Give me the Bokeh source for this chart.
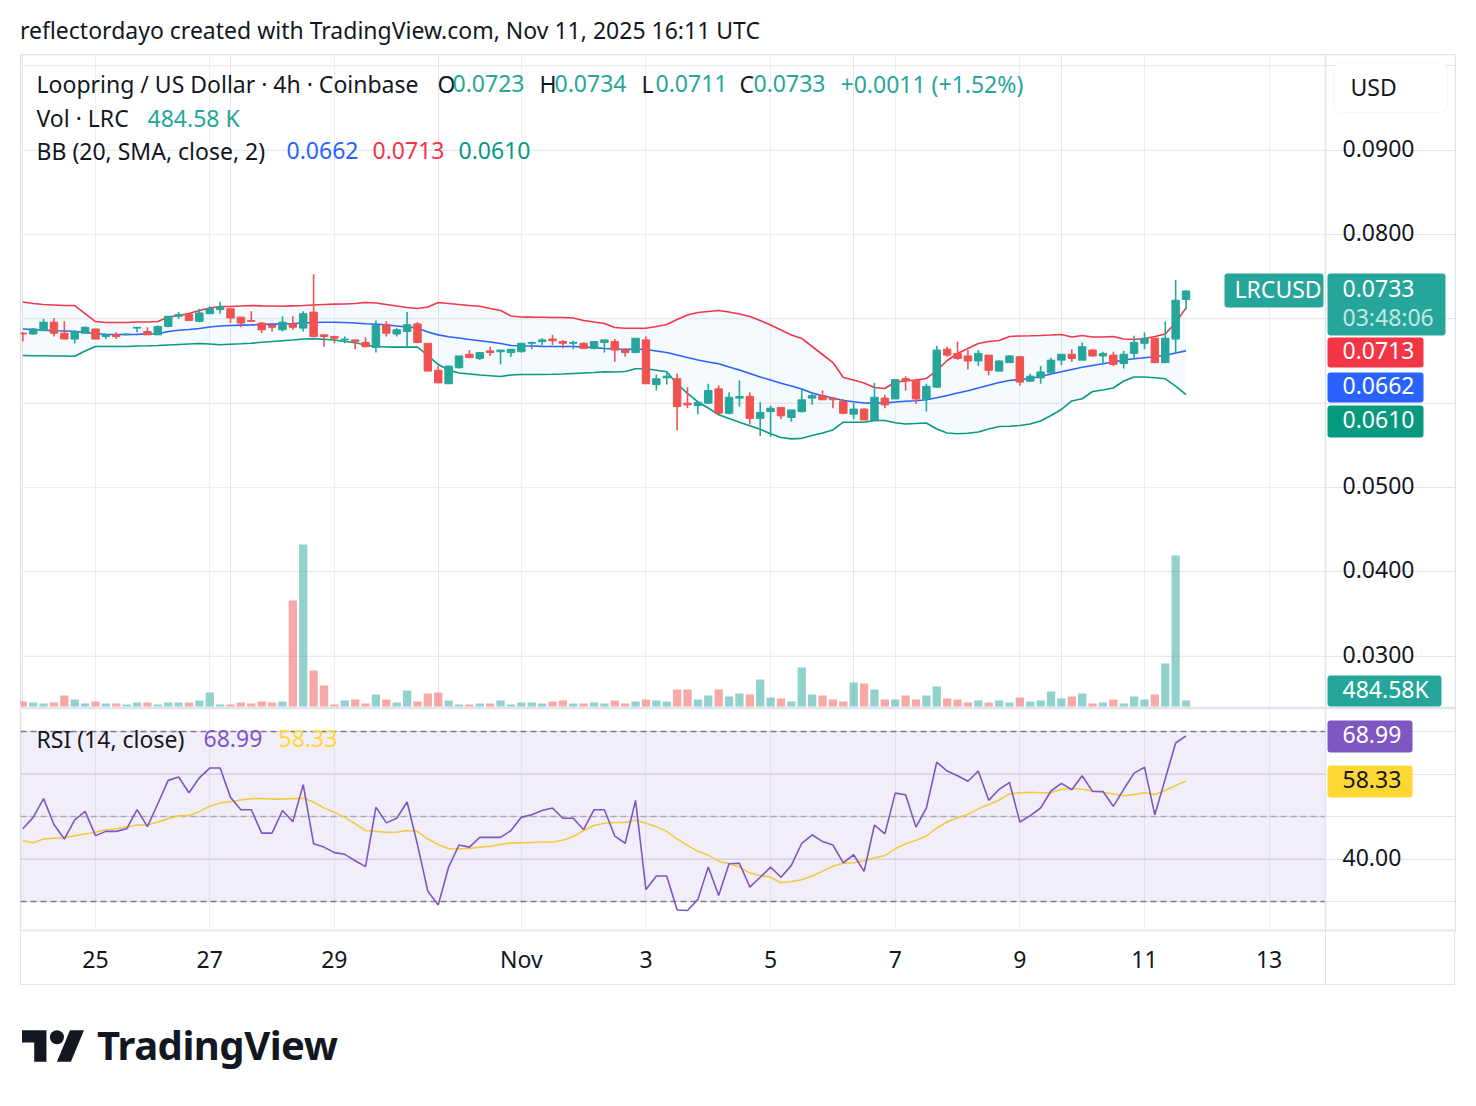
from bokeh.plotting import figure
from bokeh.models import (Range1d, FixedTicker, Label, BoxAnnotation,
                          Span, ColumnDataSource, Div, Grid)
from bokeh.layouts import column
from bokeh.embed import file_html
from bokeh.resources import INLINE

# ---------------- data (4h candles, LRC/USD, Coinbase) ----------------
opens = [0.0683, 0.0682, 0.0686, 0.0696, 0.0683, 0.0676, 0.0683, 0.0688, 0.0679, 0.0681,
         0.0681, 0.0689, 0.0685, 0.0681, 0.0691, 0.0703, 0.0705, 0.0697, 0.0706, 0.0711,
         0.0712, 0.0702, 0.0698, 0.0695, 0.0692, 0.0687, 0.0694, 0.0689, 0.0708, 0.0681,
         0.0679, 0.0675, 0.0675, 0.0672, 0.0666, 0.0693, 0.0682, 0.0685, 0.0694, 0.0671,
         0.0639, 0.0623, 0.0642, 0.0658, 0.0653, 0.0662, 0.0661, 0.0660, 0.0661, 0.0671,
         0.0673, 0.0676, 0.0673, 0.0671, 0.0671, 0.0665, 0.0672, 0.0673, 0.0663, 0.0660,
         0.0675, 0.0622, 0.0630, 0.0629, 0.0600, 0.0597, 0.0600, 0.0617, 0.0588, 0.0606,
         0.0608, 0.0582, 0.0590, 0.0595, 0.0583, 0.0590, 0.0606, 0.0609, 0.0606, 0.0602,
         0.0587, 0.0593, 0.0579, 0.0606, 0.0605, 0.0629, 0.0627, 0.0605, 0.0619, 0.0664,
         0.0659, 0.0656, 0.0650, 0.0657, 0.0638, 0.0648, 0.0655, 0.0626, 0.0630, 0.0636,
         0.0651, 0.0658, 0.0651, 0.0663, 0.0656, 0.0657, 0.0647, 0.0659, 0.0671, 0.0677,
         0.0648, 0.0676, 0.0723]
highs = [0.0684, 0.0689, 0.0700, 0.0701, 0.0697, 0.0686, 0.0691, 0.0688, 0.0682, 0.0684,
         0.0683, 0.0690, 0.0690, 0.0692, 0.0703, 0.0708, 0.0705, 0.0712, 0.0715, 0.0720,
         0.0712, 0.0702, 0.0709, 0.0696, 0.0695, 0.0703, 0.0703, 0.0709, 0.0753, 0.0681,
         0.0680, 0.0679, 0.0675, 0.0678, 0.0698, 0.0697, 0.0689, 0.0708, 0.0696, 0.0671,
         0.0644, 0.0644, 0.0656, 0.0663, 0.0660, 0.0667, 0.0663, 0.0664, 0.0671, 0.0673,
         0.0677, 0.0681, 0.0675, 0.0674, 0.0672, 0.0673, 0.0675, 0.0676, 0.0665, 0.0677,
         0.0679, 0.0634, 0.0637, 0.0635, 0.0619, 0.0601, 0.0623, 0.0621, 0.0613, 0.0627,
         0.0613, 0.0601, 0.0597, 0.0595, 0.0592, 0.0618, 0.0612, 0.0615, 0.0606, 0.0605,
         0.0600, 0.0594, 0.0624, 0.0610, 0.0628, 0.0632, 0.0629, 0.0623, 0.0668, 0.0667,
         0.0673, 0.0663, 0.0663, 0.0657, 0.0651, 0.0657, 0.0656, 0.0635, 0.0644, 0.0654,
         0.0658, 0.0664, 0.0672, 0.0664, 0.0661, 0.0661, 0.0662, 0.0680, 0.0684, 0.0677,
         0.0697, 0.0746, 0.0734]
lows = [0.0673, 0.0681, 0.0686, 0.0679, 0.0676, 0.0671, 0.0683, 0.0676, 0.0676, 0.0676,
        0.0681, 0.0684, 0.0681, 0.0681, 0.0690, 0.0700, 0.0698, 0.0696, 0.0706, 0.0706,
        0.0695, 0.0690, 0.0697, 0.0683, 0.0685, 0.0685, 0.0687, 0.0685, 0.0678, 0.0667,
        0.0671, 0.0671, 0.0664, 0.0666, 0.0660, 0.0679, 0.0679, 0.0665, 0.0671, 0.0638,
        0.0624, 0.0623, 0.0641, 0.0654, 0.0651, 0.0656, 0.0646, 0.0655, 0.0660, 0.0664,
        0.0669, 0.0669, 0.0665, 0.0664, 0.0665, 0.0664, 0.0660, 0.0649, 0.0655, 0.0660,
        0.0623, 0.0615, 0.0622, 0.0568, 0.0594, 0.0587, 0.0599, 0.0587, 0.0587, 0.0596,
        0.0575, 0.0561, 0.0560, 0.0581, 0.0578, 0.0589, 0.0598, 0.0604, 0.0594, 0.0588,
        0.0581, 0.0580, 0.0579, 0.0594, 0.0605, 0.0615, 0.0599, 0.0590, 0.0618, 0.0655,
        0.0651, 0.0640, 0.0644, 0.0633, 0.0638, 0.0648, 0.0621, 0.0626, 0.0623, 0.0636,
        0.0645, 0.0649, 0.0651, 0.0655, 0.0646, 0.0644, 0.0641, 0.0653, 0.0664, 0.0648,
        0.0648, 0.0660, 0.0711]
closes = [0.0682, 0.0688, 0.0696, 0.0683, 0.0676, 0.0685, 0.0690, 0.0676, 0.0681, 0.0679,
          0.0682, 0.0690, 0.0681, 0.0691, 0.0703, 0.0705, 0.0698, 0.0707, 0.0712, 0.0714,
          0.0701, 0.0695, 0.0697, 0.0687, 0.0690, 0.0696, 0.0690, 0.0706, 0.0679, 0.0679,
          0.0677, 0.0676, 0.0673, 0.0667, 0.0692, 0.0683, 0.0687, 0.0693, 0.0672, 0.0638,
          0.0624, 0.0644, 0.0656, 0.0654, 0.0660, 0.0660, 0.0663, 0.0664, 0.0671, 0.0672,
          0.0675, 0.0674, 0.0671, 0.0672, 0.0665, 0.0673, 0.0675, 0.0663, 0.0660, 0.0677,
          0.0623, 0.0629, 0.0632, 0.0596, 0.0598, 0.0601, 0.0615, 0.0588, 0.0607, 0.0608,
          0.0582, 0.0589, 0.0594, 0.0585, 0.0592, 0.0604, 0.0609, 0.0604, 0.0604, 0.0588,
          0.0593, 0.0580, 0.0607, 0.0598, 0.0628, 0.0627, 0.0605, 0.0620, 0.0663, 0.0657,
          0.0653, 0.0650, 0.0659, 0.0639, 0.0650, 0.0656, 0.0625, 0.0632, 0.0637, 0.0651,
          0.0658, 0.0653, 0.0667, 0.0656, 0.0659, 0.0646, 0.0658, 0.0672, 0.0677, 0.0648,
          0.0677, 0.0722, 0.0733]
# volume in thousands of LRC
volumes_k = [404, 323, 242, 323, 889, 566, 242, 404, 242, 242,
             162, 323, 323, 162, 323, 323, 323, 485, 1131, 162,
             162, 323, 242, 404, 323, 404, 8565, 13090, 2909, 1697,
             162, 485, 566, 242, 970, 566, 323, 1293, 404, 1050,
             1131, 485, 162, 162, 242, 242, 485, 162, 323, 323,
             242, 404, 485, 242, 242, 323, 242, 485, 242, 404,
             566, 485, 404, 1374, 1374, 566, 889, 1374, 808, 1050,
             970, 2182, 727, 646, 404, 3151, 970, 889, 566, 404,
             1939, 1858, 1374, 566, 566, 889, 566, 889, 1616, 646,
             566, 323, 485, 323, 485, 323, 727, 404, 485, 1212,
             646, 808, 1050, 242, 323, 566, 242, 808, 566, 970,
             3474, 12201, 484.58]
bb_upper = [0.07200, 0.07182, 0.07170, 0.07164, 0.07158, 0.07158, 0.07063, 0.06968, 0.06956, 0.06956,
            0.06956, 0.06962, 0.06962, 0.06968, 0.07022, 0.07040, 0.07063, 0.07099, 0.07129, 0.07146,
            0.07146, 0.07152, 0.07158, 0.07154, 0.07152, 0.07150, 0.07154, 0.07158, 0.07164, 0.07170,
            0.07174, 0.07176, 0.07182, 0.07194, 0.07188, 0.07170, 0.07152, 0.07135, 0.07123, 0.07141,
            0.07194, 0.07182, 0.07170, 0.07158, 0.07150, 0.07123, 0.07099, 0.07034, 0.07022, 0.07020,
            0.07019, 0.07016, 0.07016, 0.07010, 0.06980, 0.06962, 0.06945, 0.06897, 0.06889, 0.06889,
            0.06889, 0.06909, 0.06933, 0.06992, 0.07046, 0.07075, 0.07087, 0.07099, 0.07081, 0.07057,
            0.07028, 0.06980, 0.06927, 0.06868, 0.06808, 0.06767, 0.06672, 0.06577, 0.06482, 0.06304,
            0.06275, 0.06239, 0.06186, 0.06174, 0.06251, 0.06263, 0.06275, 0.06293, 0.06387, 0.06506,
            0.06589, 0.06648, 0.06708, 0.06731, 0.06743, 0.06791, 0.06797, 0.06799, 0.06803, 0.06808,
            0.06814, 0.06785, 0.06803, 0.06785, 0.06785, 0.06791, 0.06761, 0.06755, 0.06767, 0.06791,
            0.06820, 0.06956, 0.07130]
bb_basis = [0.06880, 0.06874, 0.06864, 0.06859, 0.06856, 0.06852, 0.06838, 0.06823, 0.06818, 0.06814,
            0.06814, 0.06816, 0.06820, 0.06824, 0.06850, 0.06864, 0.06874, 0.06885, 0.06903, 0.06915,
            0.06921, 0.06925, 0.06928, 0.06933, 0.06937, 0.06940, 0.06945, 0.06951, 0.06956, 0.06960,
            0.06960, 0.06956, 0.06951, 0.06941, 0.06935, 0.06929, 0.06915, 0.06903, 0.06891, 0.06844,
            0.06810, 0.06788, 0.06773, 0.06755, 0.06741, 0.06725, 0.06708, 0.06684, 0.06680, 0.06677,
            0.06674, 0.06672, 0.06672, 0.06672, 0.06666, 0.06660, 0.06648, 0.06642, 0.06640, 0.06639,
            0.06636, 0.06619, 0.06601, 0.06571, 0.06541, 0.06512, 0.06488, 0.06467, 0.06429, 0.06393,
            0.06352, 0.06310, 0.06275, 0.06235, 0.06203, 0.06168, 0.06120, 0.06087, 0.06061, 0.06032,
            0.06017, 0.06002, 0.06000, 0.06000, 0.06014, 0.06023, 0.06029, 0.06040, 0.06064, 0.06091,
            0.06120, 0.06148, 0.06180, 0.06212, 0.06245, 0.06269, 0.06281, 0.06293, 0.06316, 0.06346,
            0.06372, 0.06399, 0.06426, 0.06447, 0.06468, 0.06488, 0.06512, 0.06526, 0.06538, 0.06550,
            0.06565, 0.06595, 0.06620]
bb_lower = [0.06565, 0.06563, 0.06562, 0.06560, 0.06559, 0.06557, 0.06619, 0.06672, 0.06672, 0.06672,
            0.06672, 0.06678, 0.06680, 0.06684, 0.06690, 0.06696, 0.06702, 0.06708, 0.06702, 0.06693,
            0.06699, 0.06704, 0.06710, 0.06722, 0.06731, 0.06740, 0.06749, 0.06761, 0.06763, 0.06757,
            0.06749, 0.06731, 0.06716, 0.06690, 0.06672, 0.06666, 0.06664, 0.06664, 0.06666, 0.06565,
            0.06458, 0.06393, 0.06358, 0.06346, 0.06334, 0.06325, 0.06316, 0.06334, 0.06340, 0.06340,
            0.06340, 0.06342, 0.06346, 0.06352, 0.06358, 0.06364, 0.06372, 0.06370, 0.06376, 0.06408,
            0.06408, 0.06390, 0.06372, 0.06227, 0.06115, 0.06014, 0.05943, 0.05862, 0.05818, 0.05773,
            0.05732, 0.05690, 0.05637, 0.05593, 0.05577, 0.05583, 0.05616, 0.05646, 0.05682, 0.05774,
            0.05774, 0.05774, 0.05794, 0.05794, 0.05767, 0.05753, 0.05759, 0.05765, 0.05694, 0.05646,
            0.05638, 0.05643, 0.05658, 0.05694, 0.05723, 0.05727, 0.05735, 0.05753, 0.05788, 0.05854,
            0.05925, 0.06026, 0.06052, 0.06138, 0.06156, 0.06180, 0.06263, 0.06310, 0.06310, 0.06301,
            0.06289, 0.06201, 0.06100]
rsi = [47.1, 49.8, 54.2, 48.1, 44.7, 49.2, 51.2, 45.5, 46.5, 46.5,
       47.1, 51.6, 47.6, 53.0, 58.5, 59.3, 55.6, 59.1, 61.4, 61.4,
       54.5, 51.6, 51.6, 46.1, 46.1, 51.4, 48.8, 57.5, 43.6, 42.8,
       41.5, 41.1, 39.6, 38.2, 52.2, 48.5, 49.6, 53.4, 43.4, 32.4,
       29.2, 38.1, 43.3, 42.8, 45.1, 45.1, 45.1, 46.7, 49.8, 50.4,
       51.4, 52.0, 49.6, 49.6, 46.9, 51.6, 51.6, 45.4, 43.7, 53.8,
       32.8, 36.0, 36.0, 28.0, 27.9, 30.5, 38.1, 31.4, 38.9, 39.0,
       33.4, 35.7, 38.1, 35.7, 38.5, 43.7, 45.7, 44.1, 43.3, 39.1,
       41.0, 37.1, 48.0, 45.9, 55.5, 55.1, 47.5, 52.0, 62.8, 60.7,
       59.6, 58.3, 60.7, 53.8, 56.4, 58.0, 48.7, 50.2, 52.0, 56.0,
       57.8, 56.3, 59.6, 55.9, 55.9, 52.4, 56.4, 60.2, 61.6, 50.4,
       58.9, 67.3, 68.99]
rsi_ma = [44.3, 43.8, 44.7, 44.9, 45.0, 45.5, 45.9, 46.3, 46.9, 47.1,
          47.5, 48.0, 48.0, 48.7, 49.5, 50.2, 50.2, 51.2, 52.4, 53.2,
          53.5, 53.9, 54.2, 54.2, 54.1, 54.1, 54.2, 54.3, 53.4, 52.0,
          51.0, 49.8, 48.3, 46.7, 46.5, 46.3, 46.3, 46.7, 46.5, 44.7,
          43.4, 42.4, 42.4, 42.5, 42.8, 43.0, 43.4, 43.8, 43.8, 43.9,
          44.0, 44.0, 44.4, 45.3, 46.7, 47.9, 48.4, 48.6, 48.6, 49.1,
          48.4, 47.6, 46.5, 44.7, 43.2, 41.8, 40.9, 39.5, 38.9, 38.1,
          36.7, 36.1, 35.7, 34.4, 34.7, 35.1, 36.0, 37.1, 38.3, 39.0,
          39.1, 39.6, 40.3, 40.8, 42.4, 43.6, 44.4, 45.4, 47.3, 48.7,
          49.7, 50.5, 51.8, 52.8, 53.9, 55.3, 55.6, 55.7, 55.6, 55.6,
          56.4, 56.6, 56.4, 56.0, 55.7, 55.3, 54.9, 55.2, 55.6, 55.2,
          56.1, 57.3, 58.33]
time_tick_idx = [7, 18, 30, 48, 60, 72, 84, 96, 108, 120]
time_tick_labels = ["25", "27", "29", "Nov", "3", "5", "7", "9", "11", "13"]
price_grid = [0.03, 0.04, 0.05, 0.06, 0.07, 0.08, 0.09, 0.10]
price_labels = [0.03, 0.04, 0.05, 0.08, 0.09]
rsi_grid = [40, 60]
rsi_labels = [40]

# ---------------- styling ----------------
FONT = "Noto Sans"
TXT = "#131722"
UP, DOWN = "#26a69a", "#ef5350"
GRID = "#eceef2"
BORDER = "#e0e3eb"
FS = "23px"
LBL_DY = 2  # Label 'middle' baseline renders slightly low


# pixel <-> data helpers (layout only)
def px2x(px):
    return (px - 22.3) / 10.386


def py2p(py):
    return 0.107748 - 0.00011858 * py


def p2py(v):
    return (0.107748 - v) / 0.00011858


def py2r(py):
    return 70 - (py - 731) / 4.25


def r2py(v):
    return 731 + (70 - v) * 4.25


n = len(closes)
idx = list(range(n))
colors = [UP if c >= o else DOWN for o, c in zip(opens, closes)]
src = ColumnDataSource(dict(
    x=idx, h=highs, l=lows,
    top=[max(o, c) for o, c in zip(opens, closes)],
    bot=[min(o, c) for o, c in zip(opens, closes)],
    col=colors, vol=volumes_k))

x_range = Range1d(px2x(20), px2x(1456))
XL, XR = px2x(20), px2x(1325)  # plotting area, left of the price scale

# ---------------- main price pane ----------------
p = figure(width=1456, height=654, x_range=x_range,
           y_range=Range1d(py2p(708), py2p(54)),
           x_axis_location=None, y_axis_location=None,
           output_backend="svg", toolbar_location=None,
           min_border_left=20, min_border_right=0, min_border_top=0, min_border_bottom=0)
p.outline_line_color = BORDER
p.outline_line_width = 1.5
p.background_fill_color = "white"
p.border_fill_color = "white"
p.add_layout(Grid(dimension=0, ticker=FixedTicker(ticks=time_tick_idx), grid_line_color=GRID))
p.segment(x0=[XL] * len(price_grid), x1=[XR] * len(price_grid), y0=price_grid, y1=price_grid,
          line_color=GRID, line_width=1)
p.add_layout(Span(location=XR, dimension="height", line_color=BORDER, line_width=1.5))

# volume (overlay scale)
p.extra_y_ranges = {"vol": Range1d(-162, 52681)}
p.vbar(x="x", width=0.8, top="vol", bottom=0, fill_color="col", fill_alpha=0.5,
       line_color=None, y_range_name="vol", source=src)

# Bollinger bands
p.varea(x=idx, y1=bb_lower, y2=bb_upper, fill_color="#2196f3", fill_alpha=0.05)
p.line(idx, bb_upper, line_color="#f23645", line_width=1.6)
p.line(idx, bb_basis, line_color="#2962ff", line_width=1.6)
p.line(idx, bb_lower, line_color="#089981", line_width=1.6)

# candles
p.segment(x0="x", y0="l", x1="x", y1="h", line_color="col", line_width=1.6, source=src)
p.vbar(x="x", width=0.72, top="top", bottom="bot", fill_color="col", line_color="col",
       line_width=1, source=src)


def lab(fig, px, py, text, color=TXT, size=FS, pane="p"):
    conv = py2p if pane == "p" else py2r
    fig.add_layout(Label(x=px2x(px), y=conv(py - LBL_DY), text=text, text_color=color,
                         text_font=FONT, text_font_size=size, text_align="left",
                         text_baseline="middle"))


def box(fig, x0, x1, py_top, py_bot, color, line=None, radius=3, pane="p"):
    conv = py2p if pane == "p" else py2r
    fig.add_layout(BoxAnnotation(left=px2x(x0), right=px2x(x1), top=conv(py_top),
                                 bottom=conv(py_bot), fill_color=color, fill_alpha=1,
                                 line_color=line, border_radius=radius))


# legend lines
lab(p, 36, 85, "Loopring / US Dollar · 4h · Coinbase")
for px_l, letter, px_v, val in [(437, "O", 452, "0.0723"), (539, "H", 554, "0.0734"),
                                (641, "L", 655, "0.0711"), (739, "C", 753, "0.0733")]:
    lab(p, px_l, 85, letter)
    lab(p, px_v, 85, val, color=UP)
lab(p, 840, 85, "+0.0011 (+1.52%)", color=UP)
lab(p, 36, 119, "Vol · LRC")
lab(p, 147, 119, "484.58 K", color=UP)
lab(p, 36, 152, "BB (20, SMA, close, 2)")
lab(p, 286, 152, "0.0662", color="#2962ff")
lab(p, 372, 152, "0.0713", color="#f23645")
lab(p, 458, 152, "0.0610", color="#089981")

# price scale (tick labels placed from the price scale values)
for v in price_labels:
    lab(p, 1342, p2py(v), f"{v:.4f}")
box(p, 1333, 1447, 62, 112, "white", line=BORDER, radius=8)
lab(p, 1350, 88, "USD")
box(p, 1224, 1323, 273, 307, UP)
lab(p, 1234, 290, "LRCUSD", color="white")
box(p, 1327, 1445, 273, 335, UP)
lab(p, 1342, 290, "0.0733", color="white")
lab(p, 1342, 318, "03:48:06", color="#c4e8e4")
box(p, 1327, 1423, 337, 367, "#f23645")
lab(p, 1342, 352, "0.0713", color="white")
box(p, 1327, 1423, 372, 402, "#2962ff")
lab(p, 1342, 387, "0.0662", color="white")
box(p, 1327, 1423, 405, 437, "#089981")
lab(p, 1342, 421, "0.0610", color="white")
box(p, 1327, 1441, 675, 706, UP)
lab(p, 1342, 690, "484.58K", color="white")

# ---------------- RSI pane ----------------
r = figure(width=1456, height=277, x_range=x_range,
           y_range=Range1d(py2r(930), py2r(708)),
           y_axis_location=None, output_backend="svg", toolbar_location=None,
           min_border_left=20, min_border_right=0, min_border_top=0, min_border_bottom=55)
r.outline_line_color = BORDER
r.outline_line_width = 1.5
r.background_fill_color = "white"
r.border_fill_color = "white"
r.xgrid.ticker = FixedTicker(ticks=time_tick_idx)
r.xgrid.grid_line_color = GRID
xa = r.xaxis[0]
xa.ticker = FixedTicker(ticks=time_tick_idx)
xa.major_label_overrides = {t: s for t, s in zip(time_tick_idx, time_tick_labels)}
xa.axis_line_color = None
xa.major_tick_line_color = None
xa.minor_tick_line_color = None
xa.major_label_standoff = 6
xa.major_label_text_font = FONT
xa.major_label_text_font_size = FS
xa.major_label_text_color = TXT

r.add_layout(BoxAnnotation(right=XR, bottom=30, top=70, fill_color="#7e57c2", fill_alpha=0.1,
                           line_color=None))
r.segment(x0=[XL] * len(rsi_grid), x1=[XR] * len(rsi_grid), y0=rsi_grid, y1=rsi_grid,
          line_color="#dcd8e6", line_width=1)
r.segment(x0=[XL, XL], x1=[XR, XR], y0=[70, 30], y1=[70, 30], line_color="#787b86",
          line_dash="6 4", line_width=1.5)
r.segment(x0=[XL], x1=[XR], y0=[50], y1=[50], line_color="#787b86", line_alpha=0.5,
          line_dash="6 4", line_width=1.5)
r.add_layout(Span(location=XR, dimension="height", line_color=BORDER, line_width=1.5))
r.line(idx, rsi_ma, line_color="#fdd835", line_width=1.6)
r.line(idx, rsi, line_color="#7e57c2", line_width=1.6)

lab(r, 36, 740, "RSI (14, close)", pane="r")
lab(r, 203, 740, "68.99", color="#7e57c2", pane="r")
lab(r, 278, 740, "58.33", color="#fdd835", pane="r")
for v in rsi_labels:
    lab(r, 1342, r2py(v), f"{v:.2f}", pane="r")
box(r, 1327, 1412, 720, 752, "#7e57c2", pane="r")
lab(r, 1342, 736, "68.99", color="white", pane="r")
box(r, 1327, 1412, 765, 797, "#fdd835", pane="r")
lab(r, 1342, 781, "58.33", color=TXT, pane="r")

# ---------------- header & footer ----------------
title = Div(text=('<div style="font-family:\'Noto Sans\';font-size:23px;color:#131722;'
                  'padding:14px 0 0 20px;white-space:nowrap">'
                  'reflectordayo created with TradingView.com, Nov 11, 2025 16:11 UTC</div>'),
            width=1476, height=54, margin=0)
logo = Div(text=('<div style="position:relative;width:1476px;height:121px">'
                 '<div style="position:absolute;left:20px;top:-55px;width:1435px;height:55px;'
                 'border-left:1px solid #e0e3eb;border-right:1px solid #e0e3eb;'
                 'border-bottom:1px solid #e0e3eb"></div>'
                 '<div style="position:absolute;left:1325px;top:-55px;width:0;height:55px;'
                 'border-left:1.5px solid #e0e3eb"></div>'
                 '<svg style="position:absolute;left:22px;top:45px" width="62" height="32" '
                 'viewBox="0 4 35.5 18"><path fill="#131722" d="M14 22H7V11H0V4h14v18z"/>'
                 '<path fill="#131722" d="M28 22h-8l7.5-18h8L28 22z"/>'
                 '<circle fill="#131722" cx="20" cy="8" r="4"/></svg>'
                 '<span style="position:absolute;left:97px;top:40px;line-height:40px;'
                 'font-family:\'Noto Sans\';font-weight:700;font-size:40px;color:#131722;'
                 'letter-spacing:-0.5px">TradingView</span></div>'),
           width=1476, height=121, margin=0)

layout = column(title, p, r, logo, spacing=0)
open("out.html", "w").write(file_html(layout, INLINE))
